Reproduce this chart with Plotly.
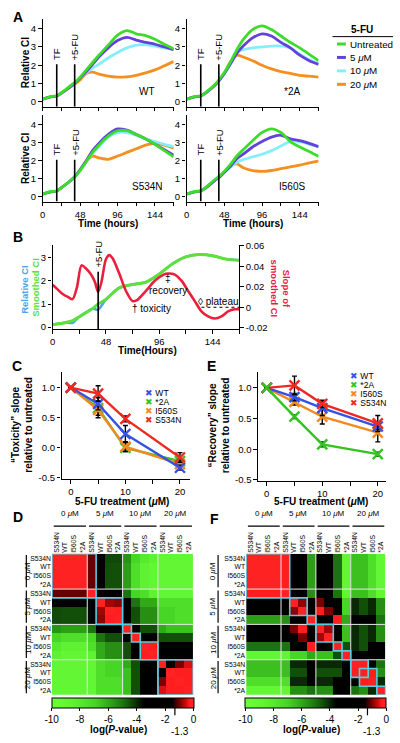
import plotly.graph_objects as go

# ---------------------------------------------------------------- data
TIME_A = [0, 12, 18, 24, 36, 42, 48, 56, 64, 72, 84, 96, 108, 120, 132, 144, 156, 168]
TF_TIME = 18
FU_TIME = 41
TIME_TICKS = [0, 24, 48, 72, 96, 120, 144, 168]
TIME_TICK_TEXT = ["0", "", "48", "", "96", "", "144", ""]
DOSE_LABELS = ["Untreated", "5 <i>μ</i>M", "10 <i>μ</i>M", "20 <i>μ</i>M"]

WT_UNTREATED = [0.15, 0.30, 0.33, 0.50, 0.90, 1.10, 1.35, 1.75, 2.15, 2.55, 3.10, 3.65, 3.90, 3.72, 3.62, 3.42, 3.15, 2.90]
WT_5UM = [0.15, 0.28, 0.32, 0.48, 0.85, 1.05, 1.30, 1.65, 2.05, 2.45, 2.95, 3.35, 3.52, 3.38, 3.25, 3.15, 3.00, 2.85]
WT_10UM = [0.15, 0.28, 0.32, 0.48, 0.85, 1.05, 1.28, 1.60, 1.85, 2.05, 2.40, 2.70, 2.95, 3.10, 3.12, 3.05, 2.95, 2.85]
WT_20UM = [0.15, 0.28, 0.32, 0.47, 0.82, 1.00, 1.20, 1.55, 1.62, 1.52, 1.40, 1.35, 1.37, 1.45, 1.58, 1.75, 1.97, 2.20]

A2_UNTREATED = [0.15, 0.30, 0.32, 0.50, 0.95, 1.25, 1.60, 2.20, 2.85, 3.40, 3.95, 4.15, 3.95, 3.60, 3.25, 2.95, 2.60, 2.25]
A2_5UM = [0.15, 0.28, 0.32, 0.48, 0.90, 1.20, 1.55, 2.10, 2.65, 3.05, 3.50, 3.72, 3.60, 3.25, 2.95, 2.55, 2.25, 2.05]
A2_10UM = [0.15, 0.28, 0.32, 0.48, 0.90, 1.20, 1.55, 2.10, 2.70, 2.85, 2.95, 3.00, 3.05, 3.05, 2.95, 2.60, 2.30, 2.10]
A2_20UM = [0.15, 0.28, 0.32, 0.48, 0.90, 1.20, 1.55, 2.20, 2.55, 2.45, 2.25, 2.00, 1.80, 1.65, 1.55, 1.45, 1.40, 1.35]

S534N_UNTREATED = [0.15, 0.30, 0.30, 0.50, 0.90, 1.15, 1.45, 1.95, 2.45, 2.85, 3.35, 3.65, 3.65, 3.45, 3.20, 2.90, 2.55, 2.20]
S534N_5UM = [0.15, 0.28, 0.32, 0.50, 0.90, 1.15, 1.50, 2.00, 2.55, 2.95, 3.45, 3.75, 3.68, 3.45, 3.20, 2.90, 2.60, 2.30]
S534N_10UM = [0.15, 0.28, 0.32, 0.50, 0.90, 1.15, 1.45, 1.95, 2.40, 2.75, 3.30, 3.55, 3.55, 3.40, 3.20, 3.05, 2.90, 2.77]
S534N_20UM = [0.15, 0.28, 0.32, 0.50, 0.90, 1.15, 1.45, 1.95, 2.25, 2.15, 2.07, 2.25, 2.45, 2.65, 2.85, 2.95, 2.85, 2.68]

I560S_UNTREATED = [0.15, 0.30, 0.30, 0.50, 0.95, 1.15, 1.40, 1.80, 2.25, 2.60, 3.10, 3.55, 3.75, 3.55, 3.05, 2.75, 2.50, 2.23]
I560S_5UM = [0.15, 0.28, 0.32, 0.48, 0.90, 1.10, 1.35, 1.70, 2.10, 2.35, 2.75, 3.05, 3.30, 3.40, 3.20, 3.10, 2.95, 2.77]
I560S_10UM = [0.15, 0.28, 0.32, 0.48, 0.90, 1.10, 1.35, 1.65, 1.90, 2.05, 2.20, 2.35, 2.55, 2.80, 3.05, 3.05, 2.90, 2.77]
I560S_20UM = [0.15, 0.28, 0.32, 0.48, 0.90, 1.10, 1.35, 1.70, 1.82, 1.60, 1.45, 1.40, 1.45, 1.55, 1.65, 1.75, 1.87, 1.97]

# Panel B
TIME_B_CI = [0, 12, 18, 24, 36, 41, 48, 60, 72, 84, 96, 108, 120, 132, 144, 156, 168]
RAW_CI = [0.10, 0.20, 0.18, 0.45, 0.80, 0.75, 1.20, 1.70, 1.85, 1.95, 2.30, 2.75, 3.05, 3.15, 3.10, 2.95, 2.90]
SMOOTHED_CI = [0.10, 0.20, 0.28, 0.45, 0.80, 1.00, 1.20, 1.70, 1.85, 1.95, 2.30, 2.75, 3.05, 3.15, 3.10, 2.95, 2.90]
TIME_B_SLOPE = [0, 4, 9, 14, 18, 22, 26, 30, 34, 38, 41, 44, 48, 51, 54, 60, 66, 72, 76, 84,
                92, 100, 104, 110, 116, 122, 128, 134, 140, 146, 152, 158, 164, 168]
SLOPE_CI = [0.022, 0.018, 0.013, 0.010, 0.008, 0.020, 0.041, 0.038, 0.033, 0.025, 0.015, 0.025,
            0.047, 0.051, 0.048, 0.033, 0.016, 0.006, 0.007, 0.016, 0.026, 0.032, 0.033, 0.032,
            0.026, 0.016, 0.006, -0.004, -0.009, -0.011, -0.009, -0.004, -0.002, -0.002]
PLATEAU_START = 134

# Panels C / E
DOSE = [0, 5, 10, 20]
MUTANTS = ["WT", "*2A", "I560S", "S534N"]
TOX_WT = [1.0, 0.73, 0.23, -0.33]
TOX_2A = [1.0, 0.66, 0.00, -0.22]
TOX_I560S = [1.0, 0.63, 0.02, -0.27]
TOX_S534N = [1.0, 0.90, 0.48, -0.16]
TOX_WT_ERR = [0, 0.10, 0.14, 0.04]
TOX_2A_ERR = [0, 0.12, 0.06, 0.04]
TOX_I560S_ERR = [0, 0.13, 0.08, 0.05]
TOX_S534N_ERR = [0, 0.13, 0.05, 0.08]

REC_WT = [1.0, 0.85, 0.67, 0.37]
REC_2A = [1.0, 0.53, 0.08, -0.08]
REC_I560S = [1.0, 0.77, 0.53, 0.27]
REC_S534N = [1.0, 1.04, 0.74, 0.42]
REC_WT_ERR = [0, 0.06, 0.12, 0.05]
REC_2A_ERR = [0, 0.03, 0.04, 0.03]
REC_I560S_ERR = [0, 0.05, 0.12, 0.15]
REC_S534N_ERR = [0, 0.15, 0.06, 0.13]

# Panels D / F: log(P-value), lower triangle (symmetric matrices)
HM_LABELS = ["S534N", "WT", "I560S", "*2A"]
HM_GROUPS = ["0 <i>μ</i>M", "5 <i>μ</i>M", "10 <i>μ</i>M", "20 <i>μ</i>M"]
TOX_P_LOWER = [
    [-0.2],
    [-0.2, -0.2],
    [-0.2, -0.2, -0.2],
    [-0.2, -0.2, -0.2, -0.2],
    [-1.1, -1.1, -1.1, -1.1, -0.2],
    [-3.2, -3.2, -3.2, -3.2, -3.0, -0.2],
    [-4.4, -4.5, -4.5, -4.5, -3.0, -0.8, -0.2],
    [-4.4, -4.5, -4.5, -4.5, -3.0, -0.9, -0.3, -0.2],
    [-5.6, -5.8, -5.8, -5.8, -5.0, -3.0, -3.0, -3.0, -0.2],
    [-7.0, -7.5, -7.5, -7.5, -7.0, -5.0, -4.5, -4.5, -3.0, -0.2],
    [-8.0, -8.5, -8.5, -8.5, -7.5, -6.0, -5.5, -5.5, -4.5, -3.0, -0.2],
    [-8.5, -9.0, -9.0, -9.0, -8.5, -6.0, -5.5, -5.5, -4.5, -3.0, -0.3, -0.2],
    [-9.0, -9.0, -9.0, -9.0, -9.0, -7.5, -7.0, -7.0, -6.0, -4.5, -3.0, -3.0, -0.2],
    [-9.0, -9.0, -9.0, -9.0, -9.0, -7.5, -7.0, -7.0, -6.5, -4.5, -3.0, -3.0, -2.8, -0.2],
    [-9.0, -9.0, -9.0, -9.0, -9.0, -7.5, -7.5, -7.5, -6.5, -4.5, -3.0, -3.0, -1.0, -0.3, -0.2],
    [-9.0, -9.0, -9.0, -9.0, -9.0, -7.5, -7.5, -7.5, -6.5, -4.5, -3.0, -3.0, -0.5, -0.3, -0.3, -0.2],
]
REC_P_LOWER = [
    [-0.2],
    [-0.2, -0.2],
    [-0.2, -0.2, -0.2],
    [-0.2, -0.2, -0.2, -0.2],
    [-0.3, -0.3, -0.3, -0.3, -0.2],
    [-3.0, -3.0, -3.0, -3.0, -3.0, -0.2],
    [-3.0, -3.0, -3.0, -3.0, -3.0, -0.9, -0.2],
    [-5.8, -5.8, -5.8, -5.8, -5.5, -3.5, -3.0, -0.2],
    [-3.0, -3.0, -3.0, -3.0, -3.0, -1.0, -0.3, -3.0, -0.2],
    [-3.5, -3.5, -3.5, -3.5, -3.5, -3.0, -1.0, -3.0, -0.8, -0.2],
    [-5.0, -5.0, -5.0, -5.0, -5.0, -3.0, -3.0, -0.3, -3.0, -3.0, -0.2],
    [-9.0, -9.0, -9.0, -9.0, -9.0, -7.0, -7.0, -6.0, -6.5, -6.5, -4.5, -0.2],
    [-6.5, -6.5, -6.5, -6.5, -6.5, -4.0, -4.0, -3.0, -4.0, -4.0, -4.0, -3.0, -0.2],
    [-6.5, -6.5, -6.5, -6.5, -6.5, -4.5, -4.5, -3.0, -4.5, -4.5, -4.5, -3.0, -0.3, -0.2],
    [-7.5, -7.5, -7.5, -7.5, -7.5, -4.0, -4.0, -3.0, -4.0, -4.0, -3.5, -3.0, -2.8, -0.3, -0.2],
    [-9.0, -9.0, -9.0, -9.0, -9.0, -5.5, -5.5, -5.0, -5.5, -5.5, -3.5, -3.0, -5.0, -5.5, -4.0, -0.2],
]
TOX_CLUSTERS = [(0, 4), (5, 7), (8, 8), (9, 9), (10, 11), (12, 15)]
REC_CLUSTERS = [(0, 4), (5, 6), (7, 7), (8, 9), (10, 10), (11, 11), (12, 13), (13, 14), (15, 15)]
CBAR_TICKS = [-10, -8, -6, -4, -2, 0]
P_THRESHOLD = -1.3

# ---------------------------------------------------------------- helpers
W, H = 400, 743
FONT = "Liberation Sans, Arial, Helvetica, sans-serif"


def X(px):
    return px / W


def Y(py):
    return 1 - py / H


def dx(a, b):
    return [a / W, b / W]


def dy(top, bottom):
    return [1 - bottom / H, 1 - top / H]


def full(lower):
    n = len(lower)
    return [[lower[i][j] if j <= i else lower[j][i] for j in range(n)] for i in range(n)]


COL_UNT, COL_5, COL_10, COL_20 = "#3ddc2a", "#6242dc", "#86eefa", "#f39020"
A_COLORS = [COL_UNT, COL_5, COL_10, COL_20]
C_BLUE, C_GREEN, C_ORANGE, C_RED = "#3652e4", "#33c422", "#f28a22", "#ec2a22"
RED_SLOPE, BLUE_CI, GREEN_CI = "#e8203c", "#4aa6ea", "#5ee03a"
CYAN_BOX = "#55cde0"
TICK_SIZE = 9.5
TITLE_SIZE = 10

fig = go.Figure()
layout = dict(width=W, height=H, margin=dict(l=0, r=0, t=0, b=0), autosize=False,
              paper_bgcolor="white", plot_bgcolor="white", showlegend=False,
              font=dict(family=FONT, size=10, color="black"))
annotations, shapes = [], []

base_axis = dict(showgrid=False, zeroline=False, showline=True, linecolor="black", linewidth=1.4,
                 ticks="outside", ticklen=3.5, tickwidth=1.2, tickcolor="black",
                 tickfont=dict(family=FONT, size=TICK_SIZE, color="black"), fixedrange=True)


def ann(text, x, y, size=10, xref="paper", yref="paper", angle=0, xanchor="center", yanchor="middle",
        bold=False, color="black"):
    t = f"<b>{text}</b>" if bold else text
    annotations.append(dict(text=t, x=x, y=y, xref=xref, yref=yref, showarrow=False, textangle=angle,
                            xanchor=xanchor, yanchor=yanchor,
                            font=dict(family=FONT, size=size, color=color)))


# ---------------------------------------------------------------- panel A
A_PANELS = [
    ("WT", [WT_UNTREATED, WT_5UM, WT_10UM, WT_20UM], (40, 172), (14, 103), False),
    ("*2A", [A2_UNTREATED, A2_5UM, A2_10UM, A2_20UM], (185, 318), (14, 103), False),
    ("S534N", [S534N_UNTREATED, S534N_5UM, S534N_10UM, S534N_20UM], (40, 172), (111, 199), True),
    ("I560S", [I560S_UNTREATED, I560S_5UM, I560S_10UM, I560S_20UM], (185, 318), (111, 199), True),
]
A_YRANGE = [-0.27, 4.54]
for k, (name, series, xd, yd, bottom) in enumerate(A_PANELS, start=1):
    xa, ya = f"x{k}" if k > 1 else "x", f"y{k}" if k > 1 else "y"
    for idx in [3, 2, 1, 0]:
        fig.add_trace(go.Scatter(x=TIME_A, y=series[idx], mode="lines", xaxis=xa, yaxis=ya,
                                 line=dict(color=A_COLORS[idx], width=2.8, shape="spline", smoothing=0.9),
                                 hoverinfo="skip"))
    layout["xaxis" + (str(k) if k > 1 else "")] = dict(
        base_axis, domain=dx(*xd), range=[0, 168], anchor=ya, tickvals=TIME_TICKS,
        ticktext=TIME_TICK_TEXT if bottom else [""] * len(TIME_TICKS))
    layout["yaxis" + (str(k) if k > 1 else "")] = dict(
        base_axis, domain=dy(*yd), range=A_YRANGE, anchor=xa, tickvals=[0, 1, 2, 3, 4])
    for t, lab in [(TF_TIME, "TF"), (FU_TIME, "+5-FU")]:
        shapes.append(dict(type="line", xref=xa, yref=ya, x0=t, x1=t, y0=A_YRANGE[0], y1=2.05,
                           line=dict(color="black", width=1.6)))
        annotations.append(dict(text=lab, x=t, y=2.05, xref=xa, yref=ya, showarrow=False, textangle=-90,
                                yanchor="bottom", yshift=2, font=dict(family=FONT, size=9.5, color="black")))
    ann(name, 134, 0.57, size=10, xref=xa, yref=ya)

ann("Relative CI", X(22), Y(58), size=TITLE_SIZE, angle=-90, bold=True)
ann("Relative CI", X(22), Y(155), size=TITLE_SIZE, angle=-90, bold=True)
ann("Time (hours)", X(106), Y(221), size=TITLE_SIZE, bold=True)
ann("Time (hours)", X(252), Y(221), size=TITLE_SIZE, bold=True)

# legend of A
ann("5-FU", X(362), Y(25), size=10, bold=True)
shapes.append(dict(type="line", xref="paper", yref="paper", x0=X(332), x1=X(393), y0=Y(32), y1=Y(32),
                   line=dict(color="black", width=1)))
for i, (lab, col) in enumerate(zip(DOSE_LABELS, A_COLORS)):
    yy = 39.5 + 13.6 * i
    shapes.append(dict(type="line", xref="paper", yref="paper", x0=X(336.5), x1=X(345.5), y0=Y(yy), y1=Y(yy),
                       line=dict(color=col, width=3)))
    ann(lab, X(347.5), Y(yy), size=9.8, xanchor="left")

# ---------------------------------------------------------------- panel B
fig.add_trace(go.Scatter(x=TIME_B_CI, y=RAW_CI, mode="lines", xaxis="x5", yaxis="y5",
                         line=dict(color=BLUE_CI, width=2.5, shape="spline", smoothing=0.6), hoverinfo="skip"))
fig.add_trace(go.Scatter(x=TIME_B_CI, y=SMOOTHED_CI, mode="lines", xaxis="x5", yaxis="y5",
                         line=dict(color=GREEN_CI, width=3, shape="spline", smoothing=0.9), hoverinfo="skip"))
fig.add_trace(go.Scatter(x=TIME_B_SLOPE, y=SLOPE_CI, mode="lines", xaxis="x5", yaxis="y6",
                         line=dict(color=RED_SLOPE, width=2.6, shape="spline", smoothing=0.8), hoverinfo="skip"))
B_LEFT = [-0.086, 3.56]
B_RIGHT = [-0.0213, 0.0609]
layout["xaxis5"] = dict(base_axis, domain=dx(50, 238), range=[0, 168], anchor="y5",
                        tickvals=TIME_TICKS, ticktext=TIME_TICK_TEXT)
layout["yaxis5"] = dict(base_axis, domain=dy(243, 328), range=B_LEFT, anchor="x5", tickvals=[0, 1, 2, 3])
layout["yaxis6"] = dict(base_axis, domain=dy(243, 328), range=B_RIGHT, anchor="x5", overlaying="y5",
                        side="right", tickvals=[-0.02, 0, 0.02, 0.04, 0.06],
                        ticktext=["-0.02", "0", "0.02", "0.04", "0.06"])
shapes.append(dict(type="line", xref="x5", yref="y5", x0=FU_TIME, x1=FU_TIME, y0=B_LEFT[0], y1=2.4,
                   line=dict(color="black", width=1.6)))
annotations.append(dict(text="+5-FU", x=FU_TIME, y=2.4, xref="x5", yref="y5", showarrow=False, textangle=-90,
                        yanchor="bottom", yshift=2, font=dict(family=FONT, size=9.5, color="black")))
shapes.append(dict(type="line", xref="x5", yref="y6", x0=PLATEAU_START, x1=168, y0=0, y1=0,
                   line=dict(color="black", width=1, dash="dot")))
ann("‡", 104, 0.0283, size=10, xref="x5", yref="y6")
ann("recovery", 104, 0.0164, size=10, xref="x5", yref="y6")
ann("† toxicity", 89, -0.001, size=10, xref="x5", yref="y6")
ann("◊ plateau", 149, 0.0058, size=10, xref="x5", yref="y6")
ann("Relative CI", X(21.5), Y(288), size=9.5, angle=-90, bold=True, color=BLUE_CI)
ann("Smoothed CI", X(32.5), Y(286), size=9.5, angle=-90, bold=True, color=GREEN_CI)
ann("Slope of<br>smoothed CI", X(280), Y(287), size=9.5, angle=90, bold=True, color=RED_SLOPE)
ann("Time(Hours)", X(146), Y(349.5), size=TITLE_SIZE, bold=True)

# ---------------------------------------------------------------- panels C and E
def dose_panel(xa, ya, series, xd, yd, xr):
    for vals, err, col in series:
        fig.add_trace(go.Scatter(
            x=DOSE, y=vals, mode="lines+markers", xaxis=xa, yaxis=ya, hoverinfo="skip",
            line=dict(color=col, width=2.4),
            marker=dict(symbol="x-thin", size=10, color=col, line=dict(color=col, width=2.4)),
            error_y=dict(type="data", array=err, visible=True, color="black", thickness=1.4, width=2.5)))
    layout["xaxis" + xa[1:]] = dict(base_axis, domain=dx(*xd), range=xr, anchor=ya,
                                    tickvals=[0, 5, 10, 15, 20], ticktext=["0", "", "10", "", "20"])
    layout["yaxis" + ya[1:]] = dict(base_axis, domain=dy(*yd), range=[-0.52, 1.25], anchor=xa,
                                    tickvals=[-0.5, 0, 0.5, 1.0], ticktext=["-0.5", "0.0", "0.5", "1.0"])


dose_panel("x7", "y7", [(TOX_2A, TOX_2A_ERR, C_GREEN), (TOX_I560S, TOX_I560S_ERR, C_ORANGE),
                        (TOX_WT, TOX_WT_ERR, C_BLUE), (TOX_S534N, TOX_S534N_ERR, C_RED)],
           (59, 188), (372, 480), [-1.69, 21.76])
dose_panel("x8", "y8", [(REC_I560S, REC_I560S_ERR, C_ORANGE), (REC_WT, REC_WT_ERR, C_BLUE),
                        (REC_S534N, REC_S534N_ERR, C_RED), (REC_2A, REC_2A_ERR, C_GREEN)],
           (257, 386), (372, 482), [-1.56, 21.5])

LEG_COLORS = [C_BLUE, C_GREEN, C_ORANGE, C_RED]
for (lx, ly0) in [(141, 393), (347.5, 376)]:
    for i, (m, col) in enumerate(zip(MUTANTS, LEG_COLORS)):
        ann(f'<span style="color:{col}">✖</span> {m}', X(lx), Y(ly0 + 9.1 * i), size=8.5, xanchor="left")

ann("“Toxicity” slope<br>relative to untreated", X(19), Y(425), size=TITLE_SIZE, angle=-90, bold=True)
ann("“Recovery” slope<br>relative to untreated", X(217), Y(425), size=TITLE_SIZE, angle=-90, bold=True)
ann("5-FU treatment (<i>μ</i>M)", X(120), Y(503), size=TITLE_SIZE, bold=True)
ann("5-FU treatment (<i>μ</i>M)", X(320), Y(503), size=TITLE_SIZE, bold=True)

# ---------------------------------------------------------------- panels D and F
COLORSCALE = [
    [0.00, "#6cff3c"], [0.15, "#5ef232"], [0.30, "#48d626"], [0.40, "#30aa18"],
    [0.50, "#1c7410"], [0.58, "#0c3a06"], [0.65, "#000000"], [0.85, "#000000"],
    [0.87, "#3a0000"], [0.90, "#7a0000"], [0.94, "#c80a0a"], [0.97, "#ff1e1e"], [1.00, "#ff2a2a"],
]
IDX = list(range(16))
ROW_TEXT = HM_LABELS * 4


def heat_panel(k, mat, clusters, xd, cb_center, bar_x, group_x):
    xa, ya = f"x{k}", f"y{k}"
    fig.add_trace(go.Heatmap(
        z=full(mat), x=IDX, y=IDX, xaxis=xa, yaxis=ya, colorscale=COLORSCALE, zmin=-10, zmax=0,
        hoverinfo="skip", showscale=True,
        colorbar=dict(orientation="h", x=X(cb_center), xanchor="center", y=Y(701.7), yanchor="top",
                      len=xd[1] - xd[0], lenmode="pixels", thickness=10, thicknessmode="pixels",
                      tickvals=CBAR_TICKS, ticktext=[str(v) for v in CBAR_TICKS], ticks="outside",
                      ticklen=3, tickcolor="black", outlinewidth=1, outlinecolor="black",
                      xpad=0, ypad=0, tickfont=dict(family=FONT, size=10, color="black"))))
    layout["xaxis" + str(k)] = dict(domain=dx(*xd), range=[-0.5, 15.5], anchor=ya, side="top",
                                    tickvals=IDX, ticktext=ROW_TEXT, tickangle=-90, ticks="",
                                    showline=False, showgrid=False, zeroline=False, fixedrange=True,
                                    tickfont=dict(family=FONT, size=6.8, color="black"))
    layout["yaxis" + str(k)] = dict(domain=dy(555.5, 698.5), range=[15.5, -0.5], anchor=xa,
                                    tickvals=IDX, ticktext=ROW_TEXT, ticks="", showline=False,
                                    showgrid=False, zeroline=False, fixedrange=True,
                                    tickfont=dict(family=FONT, size=6.8, color="black"))
    for b in [3.5, 7.5, 11.5]:
        shapes.append(dict(type="line", xref=xa, yref=ya, x0=b, x1=b, y0=-0.5, y1=15.5,
                           line=dict(color="#e8e8e8", width=1)))
        shapes.append(dict(type="line", xref=xa, yref=ya, x0=-0.5, x1=15.5, y0=b, y1=b,
                           line=dict(color="#e8e8e8", width=1)))
    for a, b in clusters:
        shapes.append(dict(type="rect", xref=xa, yref=ya, x0=a - 0.5, x1=b + 0.5, y0=a - 0.5, y1=b + 0.5,
                           line=dict(color=CYAN_BOX, width=1.6)))
    for g, name in enumerate(HM_GROUPS):
        lo, hi = 4 * g, 4 * g + 3
        annotations.append(dict(text=name, x=(lo + hi) / 2, y=Y(521.5), xref=xa, yref="paper",
                                showarrow=False, font=dict(family=FONT, size=8, color="black")))
        shapes.append(dict(type="line", xref=xa, yref="paper", x0=lo - 0.3, x1=hi + 0.35,
                           y0=Y(527.5), y1=Y(527.5), line=dict(color="black", width=1.2)))
        annotations.append(dict(text=name, x=X(group_x), y=(lo + hi) / 2, xref="paper", yref=ya,
                                showarrow=False, textangle=-90,
                                font=dict(family=FONT, size=8, color="black")))
        shapes.append(dict(type="line", xref="paper", yref=ya, x0=X(bar_x), x1=X(bar_x),
                           y0=lo - 0.35, y1=hi + 0.3, line=dict(color="black", width=1.2)))
    tx = xd[0] + (P_THRESHOLD + 10) / 10 * (xd[1] - xd[0])
    shapes.append(dict(type="line", xref="paper", yref="paper", x0=X(tx), x1=X(tx), y0=Y(711.7), y1=Y(719),
                       line=dict(color="black", width=1.2)))
    ann(str(P_THRESHOLD), X(tx + 5), Y(735.5), size=10)
    ann("log(<i>P</i>-value)", X(cb_center - 4), Y(733), size=TITLE_SIZE, bold=True)


heat_panel(9, TOX_P_LOWER, TOX_CLUSTERS, (49.3, 191.7), 120.5, 23.5, 18.5)
heat_panel(10, REC_P_LOWER, REC_CLUSTERS, (245, 385.5), 315.25, 216.7, 211.5)

# ---------------------------------------------------------------- panel letters
for letter, px, py in [("A", 15, 12.5), ("B", 15, 235), ("C", 14, 365), ("E", 210, 365),
                       ("D", 15, 518), ("F", 213, 520)]:
    ann(letter, X(px), Y(py), size=14, bold=True)

layout["annotations"] = annotations
layout["shapes"] = shapes
fig.update_layout(**layout)
fig.write_html("out.html", config={"displayModeBar": False},
               post_script="document.body.style.margin='0px';document.body.style.overflow='hidden';")
